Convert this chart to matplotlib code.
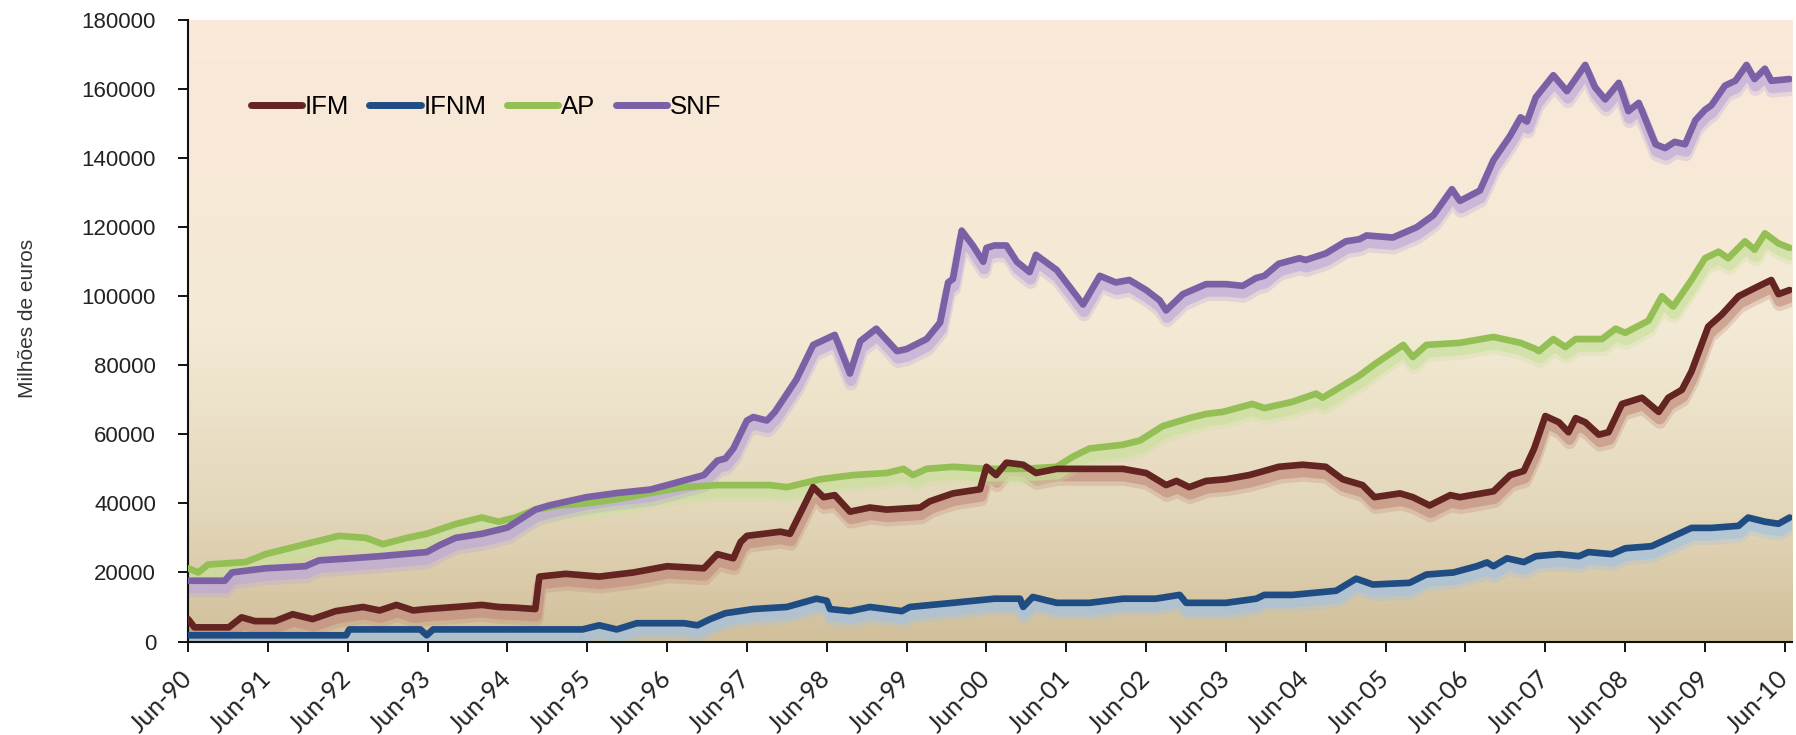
import numpy as np
import matplotlib
matplotlib.use("Agg")
import matplotlib.pyplot as plt
from matplotlib.colors import LinearSegmentedColormap
from matplotlib.transforms import offset_copy

# values (million euros), time as decimal year
ifm_t = [1990.50, 1990.58, 1991.01, 1991.17, 1991.34, 1991.59, 1991.81, 1992.06, 1992.35, 1992.69,
         1992.90, 1993.11, 1993.32, 1993.49, 1993.85, 1994.18, 1994.39, 1994.60, 1994.85, 1994.90,
         1995.23, 1995.65, 1996.08, 1996.50, 1996.96, 1997.13, 1997.33, 1997.42, 1997.50, 1997.92,
         1998.04, 1998.33, 1998.46, 1998.60, 1998.79, 1999.04, 1999.25, 1999.67, 1999.79, 2000.08,
         2000.42, 2000.50, 2000.62, 2000.75, 2000.96, 2001.12, 2001.38, 2001.79, 2002.21, 2002.50,
         2002.75, 2002.88, 2003.04, 2003.25, 2003.50, 2003.79, 2003.98, 2004.16, 2004.46, 2004.75,
         2004.96, 2005.21, 2005.36, 2005.68, 2005.84, 2006.05, 2006.31, 2006.43, 2006.85, 2007.06,
         2007.23, 2007.36, 2007.50, 2007.67, 2007.79, 2007.88, 2008.00, 2008.17, 2008.29, 2008.46,
         2008.71, 2008.92, 2009.04, 2009.21, 2009.33, 2009.54, 2009.71, 2009.92, 2010.17, 2010.33,
         2010.42, 2010.56]
ifm_v = [6500, 4100, 4100, 7000, 5900, 5900, 7900, 6500, 8800, 10000,
         9000, 10600, 9000, 9400, 10000, 10600, 10000, 9800, 9400, 18800,
         19600, 18800, 20000, 21800, 21200, 25300, 24100, 28800, 30600, 31800,
         31200, 44700, 41800, 42400, 37600, 38800, 38200, 38800, 40600, 42900,
         44100, 50600, 48200, 51800, 51200, 48800, 50000, 50000, 50000, 48800,
         45300, 46500, 44700, 46500, 47000, 48200, 49400, 50600, 51200, 50600,
         47000, 45300, 41800, 42900, 41800, 39400, 42400, 41800, 43500, 48200,
         49400, 55900, 65300, 63500, 60600, 64700, 63500, 59900, 60600, 68800,
         70600, 66500, 70600, 72900, 78200, 91200, 94700, 100000, 102900, 104700,
         100600, 101800]

ifnm_t = [1990.50, 1992.48, 1992.52, 1993.41, 1993.49, 1993.57, 1993.85, 1995.44, 1995.65, 1995.87,
          1996.12, 1996.71, 1996.88, 1997.04, 1997.23, 1997.58, 1998.00, 1998.37, 1998.50, 1998.54,
          1998.79, 1999.04, 1999.44, 1999.54, 2000.08, 2000.60, 2000.92, 2000.96, 2001.08, 2001.38,
          2001.79, 2002.21, 2002.62, 2002.92, 2003.00, 2003.50, 2003.88, 2003.98, 2004.33, 2004.88,
          2005.13, 2005.34, 2005.80, 2006.01, 2006.35, 2006.64, 2006.77, 2006.85, 2007.02, 2007.23,
          2007.38, 2007.67, 2007.92, 2008.04, 2008.33, 2008.50, 2008.83, 2009.00, 2009.33, 2009.58,
          2009.92, 2010.04, 2010.25, 2010.42, 2010.56]
ifnm_v = [1800, 1800, 3500, 3500, 1800, 3500, 3500, 3500, 4700, 3500,
          5300, 5300, 4700, 6500, 8200, 9400, 10000, 12400, 11800, 9400,
          8800, 10000, 8800, 10000, 11200, 12400, 12400, 10000, 12900, 11200,
          11200, 12400, 12400, 13500, 11200, 11200, 12400, 13500, 13500, 14700,
          18200, 16500, 17000, 19400, 20000, 21800, 22900, 21800, 24100, 23000,
          24700, 25300, 24700, 25900, 25300, 27000, 27600, 29400, 32900, 32900,
          33500, 35900, 34700, 34100, 35900]

ap_t = [1990.50, 1990.63, 1990.75, 1991.22, 1991.47, 1991.97, 1992.39, 1992.73, 1992.94, 1993.24,
        1993.49, 1993.85, 1994.18, 1994.39, 1994.60, 1994.85, 1995.15, 1995.49, 1995.87, 1996.29,
        1996.71, 1997.13, 1997.42, 1997.79, 1998.00, 1998.42, 1998.83, 1999.25, 1999.46, 1999.58,
        1999.75, 2000.08, 2000.50, 2000.96, 2001.38, 2001.58, 2001.79, 2002.21, 2002.42, 2002.71,
        2003.04, 2003.25, 2003.46, 2003.83, 2003.98, 2004.33, 2004.63, 2004.71, 2005.17, 2005.38,
        2005.72, 2005.84, 2006.01, 2006.43, 2006.85, 2007.19, 2007.38, 2007.42, 2007.60, 2007.75,
        2007.88, 2008.21, 2008.38, 2008.50, 2008.79, 2008.96, 2009.10, 2009.33, 2009.50, 2009.67,
        2009.79, 2010.00, 2010.12, 2010.25, 2010.42, 2010.56]
ap_v = [21200, 20000, 22300, 23000, 25300, 28200, 30600, 30000, 28200, 30000,
        31200, 34000, 35900, 34700, 35900, 38200, 39400, 40000, 41200, 43000,
        44700, 45300, 45300, 45300, 44700, 47000, 48200, 48800, 50000, 48200,
        50000, 50600, 50000, 50000, 50600, 53500, 55900, 57000, 58200, 62400,
        64700, 65900, 66500, 68800, 67600, 69400, 71800, 70600, 77000, 80600,
        85900, 82400, 85900, 86500, 88200, 86500, 84700, 84100, 87600, 85300,
        87600, 87600, 90600, 89400, 92900, 100000, 97000, 104700, 111000, 112900,
        111000, 115900, 113500, 118200, 115300, 114000]

snf_t = [1990.50, 1990.96, 1991.05, 1991.47, 1991.97, 1992.14, 1992.48, 1992.90, 1993.49, 1993.66,
         1993.85, 1994.18, 1994.50, 1994.85, 1995.02, 1995.49, 1995.87, 1996.29, 1996.50, 1996.96,
         1997.13, 1997.23, 1997.33, 1997.50, 1997.58, 1997.75, 1997.85, 1998.12, 1998.33, 1998.60,
         1998.79, 1998.92, 1999.12, 1999.38, 1999.50, 1999.75, 1999.92, 2000.02, 2000.08, 2000.19,
         2000.33, 2000.46, 2000.50, 2000.60, 2000.75, 2000.88, 2001.04, 2001.12, 2001.38, 2001.50,
         2001.71, 2001.92, 2002.12, 2002.29, 2002.50, 2002.67, 2002.75, 2002.96, 2003.25, 2003.50,
         2003.71, 2003.88, 2003.98, 2004.16, 2004.42, 2004.50, 2004.75, 2005.00, 2005.17, 2005.26,
         2005.59, 2005.89, 2006.10, 2006.33, 2006.43, 2006.68, 2006.85, 2007.06, 2007.19, 2007.27,
         2007.38, 2007.60, 2007.77, 2008.00, 2008.12, 2008.25, 2008.42, 2008.54, 2008.67, 2008.88,
         2009.00, 2009.12, 2009.25, 2009.38, 2009.50, 2009.58, 2009.75, 2009.88, 2010.02, 2010.12,
         2010.25, 2010.33, 2010.56]
snf_v = [17600, 17600, 20000, 21200, 21800, 23500, 24000, 24700, 25900, 28000,
         30000, 31200, 33000, 38200, 39400, 41800, 43000, 44000, 45300, 48200,
         52400, 53000, 55900, 64000, 65000, 64000, 66500, 75900, 85900, 88800,
         77600, 87000, 90600, 84100, 84700, 87600, 92400, 104000, 105000, 119000,
         114700, 110000, 114000, 114700, 114700, 110000, 107000, 112000, 107600, 104000,
         97600, 105900, 104000, 104700, 101800, 98800, 95900, 100600, 103500, 103500,
         103000, 105300, 105900, 109400, 111000, 110500, 112400, 115900, 116500, 117600,
         117000, 120000, 123500, 131000, 127600, 130600, 139400, 146500, 151800, 150600,
         157600, 164000, 159400, 167000, 160600, 157000, 161800, 153600, 156000, 144000,
         142900, 144700, 144000, 151000, 154000, 155300, 161000, 162400, 167000, 162900,
         165900, 162400, 162900]

tick_pos = [1990.5, 1991.5, 1992.5, 1993.5, 1994.5, 1995.5, 1996.5, 1997.5, 1998.5, 1999.5, 2000.5,
            2001.5, 2002.5, 2003.5, 2004.5, 2005.5, 2006.5, 2007.5, 2008.5, 2009.5, 2010.5]
tick_labels = ["Jun-90", "Jun-91", "Jun-92", "Jun-93", "Jun-94", "Jun-95", "Jun-96", "Jun-97",
               "Jun-98", "Jun-99", "Jun-00", "Jun-01", "Jun-02", "Jun-03", "Jun-04", "Jun-05",
               "Jun-06", "Jun-07", "Jun-08", "Jun-09", "Jun-10"]

series = [
    ("IFM", ifm_t, ifm_v, "#642422", "#c28c7c", 6),
    ("IFNM", ifnm_t, ifnm_v, "#1f4d83", "#a3c2e2", 5),
    ("AP", ap_t, ap_v, "#93bf55", "#c9e09c", 3),
    ("SNF", snf_t, snf_v, "#7b60a6", "#bba6da", 4),
]

fig = plt.figure(figsize=(17.96, 7.35), dpi=100)
ax = fig.add_axes([0.1047, 0.1272, 0.8931, 0.8456])

# background gradient of the plot area
bg = LinearSegmentedColormap.from_list(
    "bg", [(0.0, "#d1bf9a"), (0.22, "#e4d8bb"), (0.5, "#f3ead5"), (1.0, "#fbe8d9")])
ax.imshow(np.linspace(0, 1, 256).reshape(-1, 1), cmap=bg, origin="lower",
          extent=[0, 1, 0, 1], transform=ax.transAxes, aspect="auto", zorder=0)

handles = []
for name, t, v, col, light, z in series:
    # soft shadow below each line
    for dy, lw, a in [(-10, 10, 0.3), (-7, 8, 0.6)]:
        tr = offset_copy(ax.transData, fig=fig, x=1, y=dy, units="dots")
        ax.plot(t, v, color=light, lw=lw, alpha=a, transform=tr, zorder=2,
                solid_capstyle="round", solid_joinstyle="round")
    h, = ax.plot(t, v, color=col, lw=4.8, zorder=z, label=name,
                 solid_capstyle="round", solid_joinstyle="round")
    handles.append(h)

ax.set_xlim(1990.5, 2010.59)
ax.set_ylim(0, 180000)
ax.set_yticks(np.arange(0, 180001, 20000))
ax.set_xticks(tick_pos)
ax.set_xticklabels(tick_labels, rotation=45, ha="right", va="center",
                   rotation_mode="anchor", family="Lato", fontsize=18, color="#222222")
for lab in ax.get_yticklabels():
    lab.set_family("Liberation Sans")
    lab.set_fontsize(16)
    lab.set_color("#222222")

ax.tick_params(axis="y", direction="out", length=7, width=1.3, pad=16)
ax.tick_params(axis="x", direction="out", length=7, width=1.3, pad=17)
for s in ["top", "right"]:
    ax.spines[s].set_visible(False)
for s in ["left", "bottom"]:
    ax.spines[s].set_linewidth(1.5)
    ax.spines[s].set_color("#111111")

ax.set_ylabel("Milhões de euros", family="Liberation Sans", fontsize=15,
              color="#333333")
ax.yaxis.set_label_coords(-0.094, 0.52)

leg = ax.legend(handles=handles, loc="center left", bbox_to_anchor=(0.039, 0.86),
                ncol=4, frameon=False, borderpad=0, borderaxespad=0,
                handlelength=2.0, handletextpad=0.1, columnspacing=0.8,
                prop={"family": "Liberation Sans", "size": 18.5})
for line in leg.get_lines():
    line.set_linewidth(5)

fig.savefig("out.png", dpi=100)
